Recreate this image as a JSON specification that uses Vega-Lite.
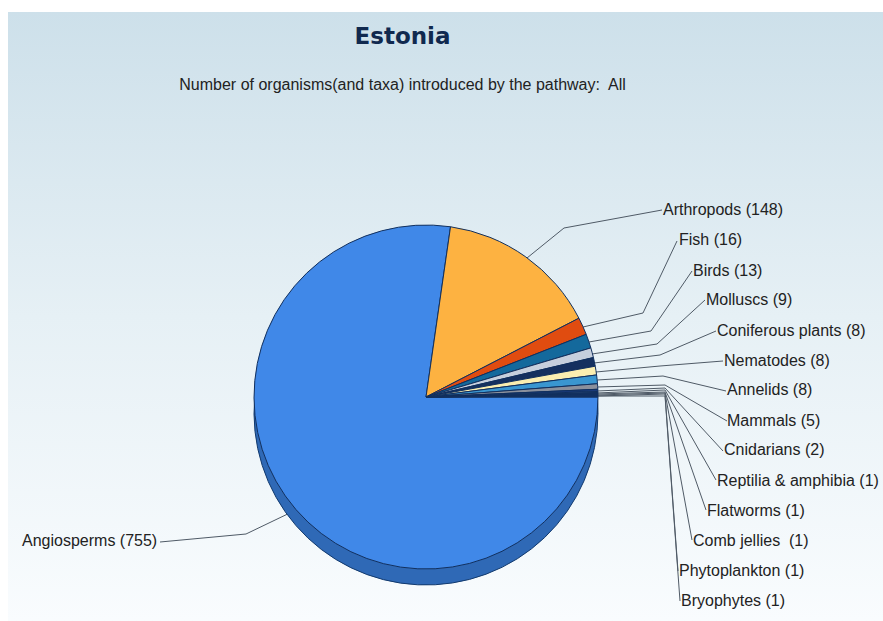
{
"$schema":"https://vega.github.io/schema/vega-lite/v6.json",
"width":883,"height":621,"autosize":{"type":"none"},"padding":0,"background":"white",
"config":{"view":{"stroke":null}},
"title":{"text":"Estonia","subtitle":"Number of organisms(and taxa) introduced by the pathway:\u00a0 All","anchor":"middle","dx":-39,"dy":93,"offset":0,"font":"DejaVu Sans","fontSize":23,"fontWeight":"bold","color":"#10294f","subtitleFont":"Liberation Sans","subtitleFontSize":16,"subtitleColor":"#222222","subtitlePadding":28},
"datasets":{
"slices":[
{"name":"Angiosperms","value":755,"rank":1},
{"name":"Arthropods","value":148,"rank":2},
{"name":"Fish","value":16,"rank":3},
{"name":"Birds","value":13,"rank":4},
{"name":"Molluscs","value":9,"rank":5},
{"name":"Coniferous plants","value":8,"rank":6},
{"name":"Nematodes","value":8,"rank":7},
{"name":"Annelids","value":8,"rank":8},
{"name":"Mammals","value":5,"rank":9},
{"name":"Cnidarians","value":2,"rank":10},
{"name":"Reptilia & amphibia","value":1,"rank":11},
{"name":"Flatworms","value":1,"rank":12},
{"name":"Comb jellies","value":1,"rank":13},
{"name":"Phytoplankton","value":1,"rank":14},
{"name":"Bryophytes","value":1,"rank":15}],
"labels":[
{"label":"Angiosperms (755)","lx":22,"ly":541},
{"label":"Arthropods (148)","lx":663,"ly":210},
{"label":"Fish (16)","lx":679,"ly":240},
{"label":"Birds (13)","lx":693,"ly":271},
{"label":"Molluscs (9)","lx":706,"ly":300},
{"label":"Coniferous plants (8)","lx":717,"ly":331},
{"label":"Nematodes (8)","lx":724,"ly":361},
{"label":"Annelids (8)","lx":727,"ly":390},
{"label":"Mammals (5)","lx":727,"ly":421},
{"label":"Cnidarians (2)","lx":724,"ly":450},
{"label":"Reptilia & amphibia (1)","lx":717,"ly":481},
{"label":"Flatworms (1)","lx":707,"ly":511},
{"label":"Comb jellies\u00a0 (1)","lx":693,"ly":541},
{"label":"Phytoplankton (1)","lx":679,"ly":571},
{"label":"Bryophytes (1)","lx":681,"ly":601}],
"leaders":[
{"name":"Angiosperms","seq":1,"px":296,"py":510},{"name":"Angiosperms","seq":2,"px":246,"py":534},{"name":"Angiosperms","seq":3,"px":160,"py":542},
{"name":"Arthropods","seq":1,"px":527,"py":258},{"name":"Arthropods","seq":2,"px":564,"py":228},{"name":"Arthropods","seq":3,"px":662,"py":210},
{"name":"Fish","seq":1,"px":583,"py":327},{"name":"Fish","seq":2,"px":643,"py":313},{"name":"Fish","seq":3,"px":677,"py":241},
{"name":"Birds","seq":1,"px":589,"py":342},{"name":"Birds","seq":2,"px":651,"py":331},{"name":"Birds","seq":3,"px":692,"py":271},
{"name":"Molluscs","seq":1,"px":592,"py":354},{"name":"Molluscs","seq":2,"px":657,"py":344},{"name":"Molluscs","seq":3,"px":705,"py":300},
{"name":"Coniferous plants","seq":1,"px":594,"py":363},{"name":"Coniferous plants","seq":2,"px":660,"py":355},{"name":"Coniferous plants","seq":3,"px":716,"py":331},
{"name":"Nematodes","seq":1,"px":596,"py":372},{"name":"Nematodes","seq":2,"px":660,"py":366},{"name":"Nematodes","seq":3,"px":723,"py":361},
{"name":"Annelids","seq":1,"px":597,"py":380},{"name":"Annelids","seq":2,"px":663,"py":376},{"name":"Annelids","seq":3,"px":726,"py":391},
{"name":"Mammals","seq":1,"px":597,"py":387},{"name":"Mammals","seq":2,"px":665,"py":385},{"name":"Mammals","seq":3,"px":727,"py":421},
{"name":"Cnidarians","seq":1,"px":597,"py":391},{"name":"Cnidarians","seq":2,"px":665,"py":388},{"name":"Cnidarians","seq":3,"px":723,"py":451},
{"name":"Reptilia & amphibia","seq":1,"px":597,"py":393},{"name":"Reptilia & amphibia","seq":2,"px":665,"py":390},{"name":"Reptilia & amphibia","seq":3,"px":716,"py":480},
{"name":"Flatworms","seq":1,"px":597,"py":394},{"name":"Flatworms","seq":2,"px":665,"py":392},{"name":"Flatworms","seq":3,"px":706,"py":510},
{"name":"Comb jellies","seq":1,"px":597,"py":395},{"name":"Comb jellies","seq":2,"px":665,"py":393},{"name":"Comb jellies","seq":3,"px":692,"py":540},
{"name":"Phytoplankton","seq":1,"px":597,"py":396},{"name":"Phytoplankton","seq":2,"px":665,"py":394},{"name":"Phytoplankton","seq":3,"px":678,"py":571},
{"name":"Bryophytes","seq":1,"px":597,"py":396},{"name":"Bryophytes","seq":2,"px":665,"py":396},{"name":"Bryophytes","seq":3,"px":680,"py":601}]
},
"layer":[
{"data":{"values":[{}]},"mark":{"type":"rect","color":{"gradient":"linear","x1":0,"y1":0,"x2":0,"y2":1,"stops":[{"offset":0,"color":"#cde0ea"},{"offset":0.5,"color":"#e6f0f5"},{"offset":1,"color":"#f9fcfe"}]}},
"encoding":{"x":{"datum":8,"type":"quantitative","scale":{"domain":[0,883],"nice":false},"axis":null},"x2":{"datum":883},"y":{"datum":12,"type":"quantitative","scale":{"domain":[621,0],"nice":false},"axis":null},"y2":{"datum":621}}},
{"data":{"name":"leaders"},"mark":{"type":"line","color":"#4f5a66","strokeWidth":1},
"encoding":{"x":{"field":"px","type":"quantitative"},"y":{"field":"py","type":"quantitative"},"detail":{"field":"name"},"order":{"field":"seq"}}},
{"data":{"name":"slices"},"mark":{"type":"arc","outerRadius":172,"color":"#2f69b6","stroke":"#123a6e","strokeWidth":1,"yOffset":16},
"encoding":{"theta":{"field":"value","type":"quantitative","scale":{"range":[1.5708,7.854]}},"order":{"field":"rank"},"x":{"datum":426,"type":"quantitative"},"y":{"datum":397,"type":"quantitative"}}},
{"data":{"name":"slices"},"mark":{"type":"arc","outerRadius":172,"stroke":"#12305e","strokeWidth":1},
"encoding":{"theta":{"field":"value","type":"quantitative","scale":{"range":[1.5708,7.854]}},"order":{"field":"rank"},"x":{"datum":426,"type":"quantitative"},"y":{"datum":397,"type":"quantitative"},
"color":{"field":"name","type":"nominal","legend":null,"sort":null,"scale":{"domain":["Angiosperms","Arthropods","Fish","Birds","Molluscs","Coniferous plants","Nematodes","Annelids","Mammals","Cnidarians","Reptilia & amphibia","Flatworms","Comb jellies","Phytoplankton","Bryophytes"],"range":["#4088e8","#fdb241","#e04c10","#14699c","#c6cfdd","#15305f","#fbeeb0","#3a96d0","#8b909c","#1a3a7a","#5f7fa8","#1a3a7a","#16336c","#1a3a7a","#16336c"]}}}},
{"data":{"name":"labels"},"mark":{"type":"text","align":"left","baseline":"middle","font":"Liberation Sans","fontSize":16,"color":"#222222"},
"encoding":{"x":{"field":"lx","type":"quantitative"},"y":{"field":"ly","type":"quantitative"},"text":{"field":"label"}}}
]
}
